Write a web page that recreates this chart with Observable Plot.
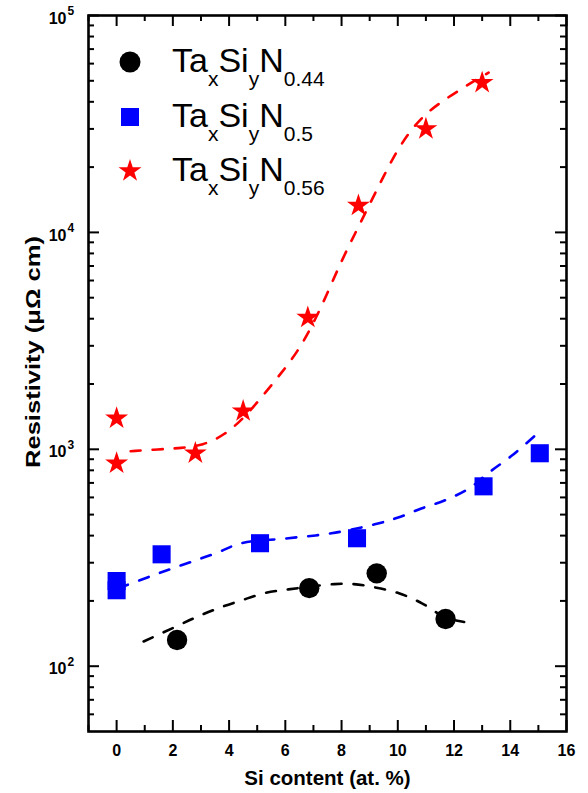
<!DOCTYPE html>
<html>
<head>
<meta charset="utf-8">
<script src="https://cdn.jsdelivr.net/npm/d3@7"></script>
<script src="https://cdn.jsdelivr.net/npm/@observablehq/plot@0.6"></script>
<style>
  html, body { margin: 0; padding: 0; background: #fff; }
  #chart svg { display: block; }
</style>
</head>
<body>
<div id="chart"></div>
<script>
// Measured resistivity of TaxSiyN films versus Si content
const n044X = [2.15, 6.85, 9.25, 11.7];
const n044Y = [132, 229, 268, 165];

const n050X = [0, 0, 1.6, 5.1, 8.55, 13.05, 15.05];
const n050Y = [247, 224, 328, 369, 389, 675, 959];

const n056X = [0, 0, 2.8, 4.5, 6.8, 8.6, 11.0, 13.0];
const n056Y = [1390, 862, 960, 1500, 4050, 13300, 30000, 49000];

// Dashed guide curves through each series
const fit044X = [0.96, 2.0, 2.82, 3.61, 4.43, 5.25, 6.11, 7.75, 8.43, 9.18, 10.04, 10.86, 11.68, 12.36];
const fit044Y = [130, 150, 168, 185, 201, 217, 226, 239, 239, 231, 217, 195, 168, 160];

const fit050X = [0.07, 1.21, 2.0, 2.82, 3.61, 4.43, 6.11, 7.64, 9.18, 10.04, 10.86, 11.68, 12.54, 13.25, 14.07, 14.89];
const fit050Y = [229, 260, 283, 308, 335, 369, 389, 410, 451, 486, 535, 582, 661, 783, 938, 1160];

const fit056X = [0.5, 1.5, 2.3, 3.06, 3.84, 4.59, 5.3, 5.85, 6.44, 7.0, 7.5, 8.0, 8.5, 9.0, 9.5, 10.0, 10.57, 11.1, 11.7, 12.3, 12.87, 13.23];
const fit056Y = [980, 1000, 1012, 1042, 1161, 1419, 1832, 2239, 2818, 3802, 5248, 7413, 10000, 13490, 18200, 24270, 30900, 36300, 41210, 46240, 51290, 54580];

// Axis ticks and labels
const xMajor = [0, 2, 4, 6, 8, 10, 12, 14, 16];
const xMinor = [-1, 1, 3, 5, 7, 9, 11, 13, 15];
const yExponents = [2, 3, 4, 5];
const yMinor = [60, 70, 80, 90, 200, 300, 400, 500, 600, 700, 800, 900,
                2000, 3000, 4000, 5000, 6000, 7000, 8000, 9000,
                20000, 30000, 40000, 50000, 60000, 70000, 80000, 90000];

const legendSubscripts = ["0.44", "0.5", "0.56"];
const legendColors = ["#000000", "#0000ff", "#ff0000"];

const xTitle = "Si content (at. %)";
const yTitle = "Resistivity (\u03bc\u03a9 cm)";

const W = 588, H = 793;
const mTop = 15, mRight = 22, mBottom = 62, mLeft = 88;
const fw = W - mLeft - mRight;
const fh = H - mTop - mBottom;
const majorLen = 11, minorLen = 6;

const toRows = (xs, ys) => xs.map((x, i) => ({x, y: ys[i]}));
const dash = {strokeWidth: 2.6, strokeDasharray: "10,12"};
const tickStyle = {stroke: "black", strokeWidth: 2};
const font = "'Liberation Sans', Arial, Helvetica, sans-serif";

const chart = Plot.plot({
  width: W, height: H,
  marginTop: mTop, marginRight: mRight, marginBottom: mBottom, marginLeft: mLeft,
  x: {domain: [-1, 16], axis: null},
  y: {type: "log", domain: [50, 1e5], axis: null},
  style: {fontFamily: font, background: "white", color: "black"},
  marks: [
    // series markers
    Plot.dot(toRows(n044X, n044Y), {x: "x", y: "y", symbol: "circle", r: 10.2, fill: legendColors[0]}),
    Plot.dot(toRows(n050X, n050Y), {x: "x", y: "y", symbol: "square", r: 10.2, fill: legendColors[1]}),
    Plot.dot(toRows(n056X, n056Y), {x: "x", y: "y", symbol: "star", r: 7.2, fill: legendColors[2]}),
    // guide curves
    Plot.line(toRows(fit044X, fit044Y), {x: "x", y: "y", stroke: legendColors[0], curve: "catmull-rom", ...dash}),
    Plot.line(toRows(fit050X, fit050Y), {x: "x", y: "y", stroke: legendColors[1], curve: "catmull-rom", ...dash}),
    Plot.line(toRows(fit056X, fit056Y), {x: "x", y: "y", stroke: legendColors[2], curve: "basis", ...dash}),
    // inward ticks on all four sides
    Plot.tickX(xMajor, {x: d => d, insetTop: fh - majorLen, ...tickStyle}),
    Plot.tickX(xMinor, {x: d => d, insetTop: fh - minorLen, ...tickStyle}),
    Plot.tickX(xMajor, {x: d => d, insetBottom: fh - majorLen, ...tickStyle}),
    Plot.tickX(xMinor, {x: d => d, insetBottom: fh - minorLen, ...tickStyle}),
    Plot.tickY(yExponents, {y: e => 10 ** e, insetRight: fw - majorLen, ...tickStyle}),
    Plot.tickY(yMinor, {y: d => d, insetRight: fw - minorLen, ...tickStyle}),
    Plot.tickY(yExponents, {y: e => 10 ** e, insetLeft: fw - majorLen, ...tickStyle}),
    Plot.tickY(yMinor, {y: d => d, insetLeft: fw - minorLen, ...tickStyle}),
    Plot.frame({stroke: "black", strokeWidth: 2.6}),
    // tick labels
    Plot.text(xMajor, {x: d => d, text: d => String(d), frameAnchor: "bottom", lineAnchor: "middle",
      dy: 19, fontSize: 16, fontWeight: "bold", fill: "black"}),
    Plot.text(yExponents, {y: e => 10 ** e, text: () => "10", frameAnchor: "left", textAnchor: "end",
      lineAnchor: "middle", dx: -22, dy: 3, fontSize: 16, fontWeight: "bold", fill: "black"}),
    Plot.text(yExponents, {y: e => 10 ** e, text: e => String(e), frameAnchor: "left", textAnchor: "start",
      lineAnchor: "middle", dx: -21, dy: -4, fontSize: 12, fontWeight: "bold", fill: "black"}),
    // horizontal axis title
    Plot.text([xTitle], {text: d => d, frameAnchor: "bottom", lineAnchor: "middle", dy: 46.5,
      fontSize: 20.5, fontWeight: "bold", fill: "black"})
  ]
});

const svg = d3.select(chart);

// Vertical axis title, set a little wider than its natural length
svg.append("text")
  .attr("transform", "translate(33,352) rotate(-90)")
  .attr("text-anchor", "middle")
  .attr("dy", "0.35em")
  .attr("font-family", font)
  .attr("font-size", 20.5)
  .attr("font-weight", "bold")
  .attr("fill", "black")
  .attr("textLength", 232)
  .attr("lengthAdjust", "spacingAndGlyphs")
  .text(yTitle);

// Legend in the upper-left corner of the frame
const lg = svg.append("g").attr("font-family", font).attr("fill", "black").attr("text-anchor", "start");
const rowY = [62, 117, 171];
const symX = 130, textX = 172;
lg.append("circle").attr("cx", symX).attr("cy", rowY[0]).attr("r", 10.5).attr("fill", legendColors[0]);
lg.append("rect").attr("x", symX - 9).attr("y", rowY[1] - 9).attr("width", 18).attr("height", 18).attr("fill", legendColors[1]);
lg.append("path").attr("d", d3.symbol(d3.symbolStar, Math.PI * 7.2 * 7.2)())
  .attr("transform", `translate(${symX},${rowY[2]})`).attr("fill", legendColors[2]);

legendSubscripts.forEach((sub, i) => {
  const t = lg.append("text").attr("x", textX).attr("y", rowY[i] + 10).attr("font-size", 34);
  const parts = [["Ta", false], ["x", true], ["Si", false], ["y", true], ["N", false], [sub, true]];
  let low = false;
  parts.forEach(([s, isSub]) => {
    const sp = t.append("tspan").text(s).attr("font-size", isSub ? 21 : 34);
    if (isSub && !low) { sp.attr("dy", 14); low = true; }
    else if (!isSub && low) { sp.attr("dy", -14); low = false; }
  });
});

document.getElementById("chart").appendChild(chart);
</script>
</body>
</html>
